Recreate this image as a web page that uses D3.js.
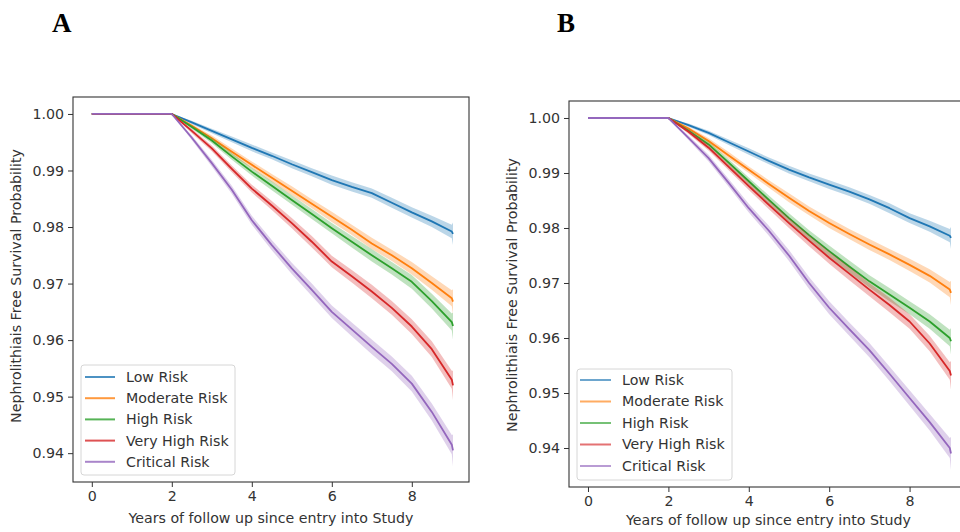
<!DOCTYPE html>
<html>
<head>
<meta charset="utf-8">
<script src="https://cdn.jsdelivr.net/npm/d3@7"></script>
<style>
  html, body { margin: 0; padding: 0; background: #fff; }
  svg { display: block; }
</style>
</head>
<body>
<svg id="chart" width="960" height="532"></svg>
<script>
// ---------------- DATA ----------------
const seriesNames = ["Low Risk", "Moderate Risk", "High Risk", "Very High Risk", "Critical Risk"];
const seriesColors = ["#1f77b4", "#ff7f0e", "#2ca02c", "#d62728", "#9467bd"];
const times = [0, 2, 2.5, 3, 3.5, 4, 4.5, 5, 5.5, 6, 6.5, 7, 7.5, 8, 8.5, 9, 9.03];
const xTicks = [0, 2, 4, 6, 8];
const yTicks = [1.00, 0.99, 0.98, 0.97, 0.96, 0.95, 0.94];
const panelLabels = ["A", "B"];
const xLabel = "Years of follow up since entry into Study";
const yLabel = "Nephrolithiais Free Survival Probability";

// Panel A survival estimates
const lowA  = [1, 1, 0.9985, 0.9970, 0.9955, 0.9940, 0.9926, 0.9911, 0.9897, 0.9883, 0.9871, 0.9860, 0.9843, 0.9826, 0.9810, 0.9792, 0.9788];
const modA  = [1, 1, 0.9979, 0.9957, 0.9933, 0.9910, 0.9887, 0.9864, 0.9841, 0.9818, 0.9795, 0.9771, 0.9750, 0.9727, 0.9701, 0.9674, 0.9668];
const highA = [1, 1, 0.9977, 0.9953, 0.9925, 0.9898, 0.9873, 0.9848, 0.9823, 0.9798, 0.9774, 0.9750, 0.9727, 0.9703, 0.9669, 0.9632, 0.9625];
const vhA   = [1, 1, 0.9970, 0.9939, 0.9903, 0.9868, 0.9838, 0.9807, 0.9774, 0.9739, 0.9713, 0.9686, 0.9657, 0.9624, 0.9584, 0.9530, 0.9520];
const critA = [1, 1, 0.9958, 0.9913, 0.9866, 0.9812, 0.9768, 0.9727, 0.9689, 0.9650, 0.9619, 0.9588, 0.9558, 0.9523, 0.9473, 0.9415, 0.9405];
// Panel A confidence half-widths
const ciLowA  = [0, 0, .0003, .0004, .0005, .0006, .0006, .0007, .0007, .0008, .0008, .0008, .0009, .0009, .0010, .0012, .0020];
const ciModA  = [0, 0, .0003, .0005, .0006, .0006, .0007, .0008, .0008, .0009, .0009, .0010, .0010, .0011, .0012, .0014, .0022];
const ciHighA = [0, 0, .0003, .0005, .0006, .0007, .0008, .0008, .0009, .0009, .0010, .0011, .0011, .0012, .0013, .0015, .0024];
const ciVhA   = [0, 0, .0004, .0005, .0006, .0007, .0008, .0009, .0010, .0010, .0011, .0012, .0012, .0013, .0014, .0016, .0026];
const ciCritA = [0, 0, .0004, .0006, .0007, .0008, .0009, .0010, .0011, .0011, .0012, .0013, .0013, .0014, .0015, .0017, .0028];

// Panel B survival estimates
const lowB  = [1, 1, 0.9987, 0.9973, 0.9956, 0.9939, 0.9922, 0.9906, 0.9892, 0.9879, 0.9866, 0.9852, 0.9836, 0.9818, 0.9803, 0.9786, 0.9782];
const modB  = [1, 1, 0.9981, 0.9958, 0.9932, 0.9906, 0.9880, 0.9855, 0.9831, 0.9809, 0.9789, 0.9770, 0.9752, 0.9733, 0.9713, 0.9688, 0.9682];
const highB = [1, 1, 0.9977, 0.9952, 0.9919, 0.9885, 0.9851, 0.9818, 0.9787, 0.9758, 0.9730, 0.9703, 0.9679, 0.9655, 0.9630, 0.9600, 0.9594];
const vhB   = [1, 1, 0.9975, 0.9946, 0.9911, 0.9876, 0.9842, 0.9809, 0.9777, 0.9746, 0.9717, 0.9688, 0.9660, 0.9630, 0.9590, 0.9540, 0.9532];
const critB = [1, 1, 0.9964, 0.9927, 0.9882, 0.9836, 0.9795, 0.9750, 0.9700, 0.9655, 0.9616, 0.9578, 0.9535, 0.9491, 0.9447, 0.9400, 0.9390];
// Panel B confidence half-widths
const ciLowB  = [0, 0, .0003, .0004, .0005, .0006, .0006, .0007, .0007, .0008, .0008, .0008, .0009, .0009, .0010, .0012, .0020];
const ciModB  = [0, 0, .0003, .0005, .0006, .0006, .0007, .0008, .0008, .0009, .0009, .0010, .0010, .0011, .0012, .0014, .0022];
const ciHighB = [0, 0, .0003, .0005, .0006, .0007, .0008, .0009, .0009, .0010, .0011, .0011, .0012, .0012, .0013, .0015, .0024];
const ciVhB   = [0, 0, .0004, .0005, .0006, .0007, .0008, .0009, .0010, .0011, .0012, .0012, .0013, .0013, .0014, .0016, .0026];
const ciCritB = [0, 0, .0004, .0006, .0007, .0008, .0009, .0010, .0011, .0012, .0012, .0013, .0013, .0014, .0015, .0018, .0030];

// ---------------- DRAW ----------------
const svg = d3.select("#chart");
const FS = 14.2;
const SANS = "'DejaVu Sans', sans-serif";

function drawPanel(cfg) {
  const x = d3.scaleLinear().domain(cfg.xDomain).range([cfg.left, cfg.right]);
  const y = d3.scaleLinear().domain(cfg.yDomain).range([cfg.bottom, cfg.top]);
  const g = svg.append("g");

  // bands + lines
  cfg.values.forEach((vals, i) => {
    const pts = times.map((t, k) => ({ t: t, v: vals[k], ci: cfg.cis[i][k] }));
    g.append("path")
      .datum(pts)
      .attr("d", d3.area().x(d => x(d.t)).y0(d => y(d.v - d.ci)).y1(d => y(d.v + d.ci)))
      .attr("fill", seriesColors[i])
      .attr("fill-opacity", 0.3)
      .attr("stroke", "none");
    g.append("path")
      .datum(pts)
      .attr("d", d3.line().x(d => x(d.t)).y(d => y(d.v)))
      .attr("fill", "none")
      .attr("stroke", seriesColors[i])
      .attr("stroke-width", 1.8)
      .attr("stroke-linejoin", "round");
  });

  // frame
  g.append("rect")
    .attr("x", cfg.left).attr("y", cfg.top)
    .attr("width", cfg.right - cfg.left).attr("height", cfg.bottom - cfg.top)
    .attr("fill", "none").attr("stroke", "#333").attr("stroke-width", 1.1);

  // axes
  const xAxis = d3.axisBottom(x).tickValues(xTicks).tickSize(5).tickPadding(4).tickFormat(d3.format("d"));
  const yAxis = d3.axisLeft(y).tickValues(yTicks).tickSize(5).tickPadding(4).tickFormat(d3.format(".2f"));
  const gx = g.append("g").attr("transform", `translate(0,${cfg.bottom})`).call(xAxis);
  const gy = g.append("g").attr("transform", `translate(${cfg.left},0)`).call(yAxis);
  [gx, gy].forEach(a => {
    a.attr("font-family", null).attr("font-size", null);
    a.select(".domain").remove();
    a.selectAll(".tick line").attr("stroke", "#333");
    a.selectAll(".tick text").style("font-size", FS + "px").style("font-family", SANS).attr("fill", "#333");
  });

  // axis labels
  g.append("text")
    .attr("x", (cfg.left + cfg.right) / 2).attr("y", cfg.xLabelY)
    .attr("text-anchor", "middle").style("font-size", FS + "px").style("font-family", SANS).attr("fill", "#333")
    .text(xLabel);
  g.append("text")
    .attr("transform", `translate(${cfg.yLabelX},${cfg.yLabelCY}) rotate(-90)`)
    .attr("text-anchor", "middle").style("font-size", FS + "px").style("font-family", SANS).attr("fill", "#333")
    .text(yLabel);

  // panel letter
  svg.append("text")
    .attr("x", cfg.letterX).attr("y", 32)
    .style("font-family", "'Liberation Serif', 'Times New Roman', serif")
    .style("font-weight", "bold").style("font-size", "27px").attr("fill", "#000")
    .text(cfg.letter);

  // legend
  const L = cfg.legend;
  g.append("rect")
    .attr("x", L.x).attr("y", L.y).attr("width", L.w).attr("height", L.h)
    .attr("rx", 3).attr("fill", "#fff").attr("fill-opacity", 0.8)
    .attr("stroke", "#d6d6d6").attr("stroke-width", 1);
  seriesNames.forEach((name, i) => {
    const yy = L.firstY + i * L.step;
    g.append("line")
      .attr("x1", L.hx1).attr("x2", L.hx2).attr("y1", yy).attr("y2", yy)
      .attr("stroke", seriesColors[i]).attr("stroke-width", 2).attr("stroke-opacity", L.handleOpacity);
    g.append("text")
      .attr("x", L.tx).attr("y", yy).attr("dy", "0.35em")
      .style("font-size", FS + "px").style("font-family", SANS).attr("fill", "#333")
      .text(name);
  });
}

drawPanel({
  letter: panelLabels[0], letterX: 52,
  left: 73, right: 469, top: 97, bottom: 482,
  xDomain: [-0.47, 9.43], yDomain: [0.9349, 1.0030],
  values: [lowA, modA, highA, vhA, critA],
  cis: [ciLowA, ciModA, ciHighA, ciVhA, ciCritA],
  xLabelY: 523, yLabelX: 21, yLabelCY: 286,
  legend: { x: 81, y: 365, w: 154, h: 110, firstY: 377, step: 21.2, hx1: 85, hx2: 115, tx: 126, handleOpacity: 0.8 }
});

drawPanel({
  letter: panelLabels[1], letterX: 557,
  left: 569, right: 968, top: 101, bottom: 487,
  xDomain: [-0.4726, 9.453], yDomain: [0.93291, 1.00309],
  values: [lowB, modB, highB, vhB, critB],
  cis: [ciLowB, ciModB, ciHighB, ciVhB, ciCritB],
  xLabelY: 525, yLabelX: 516.5, yLabelCY: 295,
  legend: { x: 577, y: 369, w: 155, h: 111, firstY: 380, step: 21.5, hx1: 580, hx2: 611, tx: 622, handleOpacity: 0.65 }
});
</script>
</body>
</html>
